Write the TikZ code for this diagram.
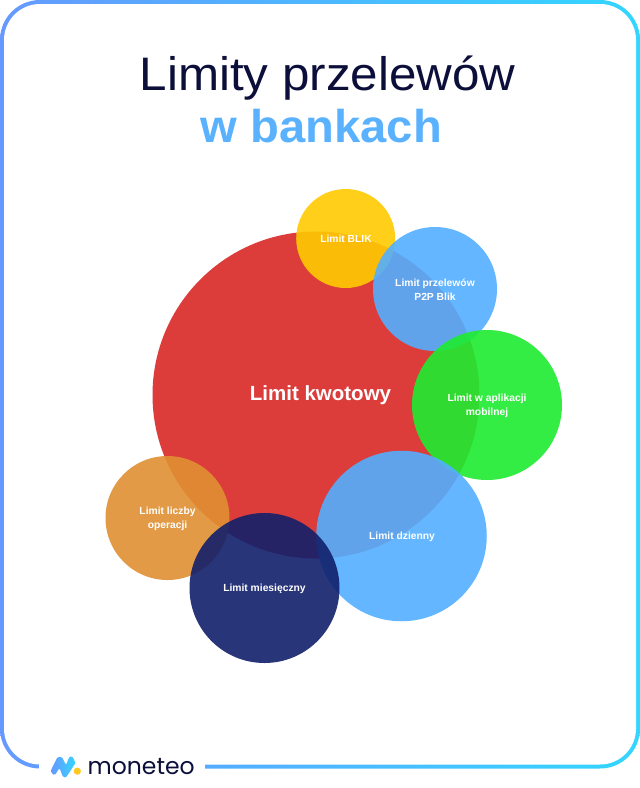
\documentclass[tikz,border=0pt]{standalone}
\usepackage{fontspec}
\setmainfont{Liberation Sans}
\newfontfamily\titlefont[FakeStretch=1.05]{Liberation Sans}
\newfontfamily\headfont[FakeStretch=1.025]{Liberation Sans Bold}
\newfontfamily\brandfont{Poppins}
\definecolor{ink}{RGB}{11,15,58}
\definecolor{sky}{RGB}{90,178,255}
\definecolor{frameL}{RGB}{102,153,255}
\definecolor{frameR}{RGB}{51,214,255}
\definecolor{redc}{RGB}{220,60,58}
\definecolor{yellowc}{RGB}{255,202,2}
\definecolor{bluec}{RGB}{83,175,255}
\definecolor{greenc}{RGB}{30,236,48}
\definecolor{orangec}{RGB}{224,144,50}
\definecolor{navyc}{RGB}{18,32,107}
\definecolor{dotc}{RGB}{255,200,30}
\tikzset{
  bubble/.style={circle,inner sep=0pt,draw=none,fill opacity=.9},
  blabel/.style={text=white,font=\bfseries\fontsize{10.3}{14}\selectfont,align=center,inner sep=0pt},
}
\begin{document}
\begin{tikzpicture}[x=1pt,y=-1pt]
\useasboundingbox (0,0) rectangle (640,788);
\fill[white] (0,0) rectangle (640,788);
% gradient outline of the card: shaded plate with a white plate on top
\shade[rounded corners=40pt,left color=frameL,right color=frameR] (0,0) rectangle (640,768.5);
\fill[white,rounded corners=36pt] (4,4) rectangle (636,764.5);
\fill[white] (39,755) rectangle (205,775);
% title
\node[inner sep=0pt,anchor=base,text=ink,font=\titlefont\fontsize{47}{47}\selectfont] (t1) at (327.5,90) {Limity przelewów};
\node[inner sep=0pt,anchor=base,text=sky,font=\headfont\fontsize{46}{46}\selectfont] (t2) at (321.5,142) {w bankach};
% bubbles, back to front
\node[bubble,fill=redc,fill opacity=1,minimum size=327pt] (kw) at (316,395) {};
\node[bubble,fill=yellowc,minimum size=99pt] (bl) at (345.7,238.5) {};
\node[bubble,fill=bluec,minimum size=124pt] (p2p) at (435,289) {};
\node[bubble,fill=greenc,minimum size=150pt] (ap) at (487,405) {};
\node[bubble,fill=bluec,minimum size=170.5pt] (dz) at (401.5,536) {};
\node[bubble,fill=orangec,minimum size=124pt] (lo) at (167.5,518) {};
\node[bubble,fill=navyc,minimum size=150pt] (mi) at (264.5,588) {};
% labels
\node[blabel,font=\bfseries\fontsize{20.5}{24}\selectfont] (lkw) at (320.5,395) {Limit kwotowy};
\node[blabel] (lbl) at (346,239) {Limit BLIK};
\node[blabel] (lp2p) at (435,290) {Limit przelewów\\P2P Blik};
\node[blabel] (lap) at (487,406) {Limit w aplikacji\\mobilnej};
\node[blabel] (ldz) at (402,536.5) {Limit dzienny};
\node[blabel] (llo) at (167.5,518.5) {Limit liczby\\operacji};
\node[blabel] (lmi) at (264.5,588.5) {Limit miesięczny};
% brand mark and wordmark
\path[rounded corners=1.2pt,left color=frameL,right color=frameR]
  (51,770) -- (57.5,757) -- (62,757) -- (66,765) -- (69.5,756.5) -- (72.5,756.5)
  -- (75.5,763) -- (66,777.5) -- (63,777) -- (59.5,768) -- (55,775) -- (52,774) -- cycle;
\fill[dotc] (77.3,771.2) circle (3.6pt);
\node[inner sep=0pt,anchor=base west,text=ink,font=\brandfont\fontsize{23.5}{25}\selectfont] (br) at (87.5,774.5) {moneteo};
\end{tikzpicture}
\end{document}
